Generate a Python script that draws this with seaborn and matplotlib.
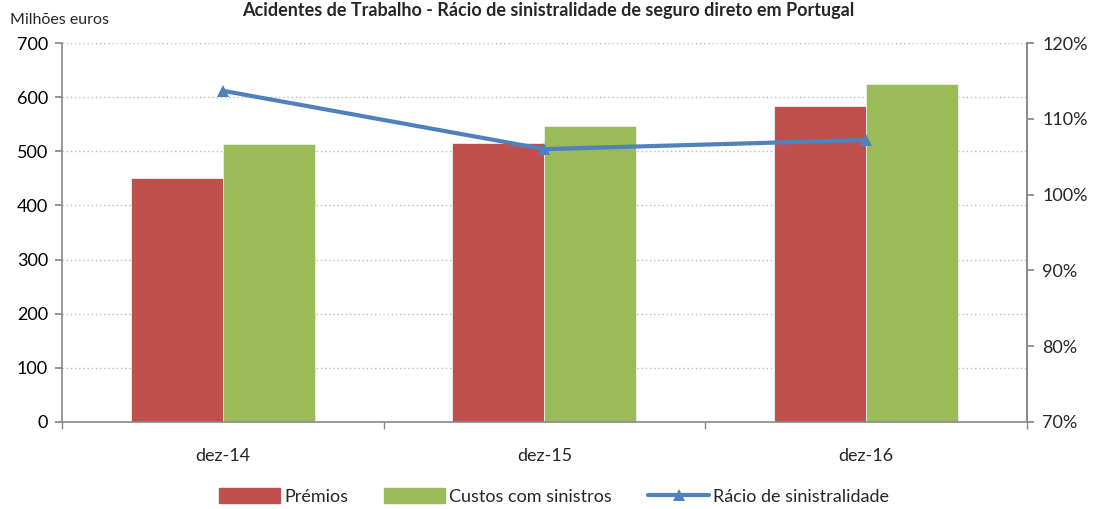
import pandas as pd
import numpy as np
import matplotlib
matplotlib.use("Agg")
import matplotlib.pyplot as plt
import seaborn as sns
from matplotlib.ticker import FuncFormatter, FixedLocator
from matplotlib.patches import Patch
from matplotlib.lines import Line2D

# ---------------------------------------------------
# Daten
# ---------------------------------------------------
periodos = ["dez-14", "dez-15", "dez-16"]
premios = [451, 515, 583]
custos = [513, 546, 625]
racio = [113.7, 106.0, 107.2]

titulo = "Acidentes de Trabalho - Rácio de sinistralidade de seguro direto em Portugal"

df = pd.DataFrame({
    "periodo": periodos * 2,
    "valor": premios + custos,
    "serie": ["Prémios"] * 3 + ["Custos com sinistros"] * 3,
})

sns.set_theme(style="white")
plt.rcParams["font.family"] = ["Lato", "DejaVu Sans"]

fig = plt.figure(figsize=(10.97, 5.09), dpi=100)
ax = fig.add_axes([0.0565, 0.171, 0.8795, 0.7445])

sns.barplot(
    data=df, x="periodo", y="valor", hue="serie",
    palette=["#C0504D", "#9BBB59"], saturation=1, width=0.572,
    edgecolor="#eeeeee", linewidth=0.6, ax=ax, legend=False
)
ax.set_xlim(-0.5, 2.5)
ax.set_ylim(0, 700)
ax.set_yticks(range(0, 701, 100))
ax.yaxis.grid(True, linestyle=(0, (1, 2)), color="#bbbbbb", linewidth=1)
ax.set_axisbelow(True)
ax.set_xlabel("")
ax.set_ylabel("")

# Achsen
for s in ["left", "right", "bottom"]:
    ax.spines[s].set_visible(True)
    ax.spines[s].set_color("#888888")
    ax.spines[s].set_linewidth(1.2)
ax.spines["top"].set_visible(False)

ax.tick_params(axis="y", which="major", left=True, length=5, color="#888888",
               labelsize=13, labelcolor="black", pad=5)
ax.tick_params(axis="x", which="major", length=0, labelsize=13, pad=19)
ax.xaxis.set_minor_locator(FixedLocator([-0.5, 0.5, 1.5, 2.5]))
ax.tick_params(axis="x", which="minor", bottom=True, length=5, color="#888888")

# Zweite Achse: Rácio
ax2 = ax.twinx()
sns.lineplot(x=[0, 1, 2], y=racio, color="#4F81BD", linewidth=3, marker="^",
             markersize=9, markeredgewidth=0, ax=ax2)
ax2.set_ylim(70, 120)
ax2.set_yticks(range(70, 121, 10))
ax2.yaxis.set_major_formatter(FuncFormatter(lambda v, p: f"{v:.0f}%"))
ax2.tick_params(axis="y", right=True, length=5, color="#888888",
                labelsize=13, pad=6)
for s in ["left", "top", "bottom"]:
    ax2.spines[s].set_visible(False)
ax2.spines["right"].set_color("#888888")
ax2.spines["right"].set_linewidth(1.2)
ax2.grid(False)

# Titel und Einheit
fig.text(0.5, 0.997, titulo, ha="center", va="top", fontsize=13,
         fontweight="bold")
fig.text(0.009, 0.961, "Milhões euros", ha="left", va="center", fontsize=11.5)

# Legende
handles = [
    Patch(color="#C0504D", label="Prémios"),
    Patch(color="#9BBB59", label="Custos com sinistros"),
    Line2D([0], [0], color="#4F81BD", linewidth=3, marker="^", markersize=8,
           markeredgewidth=0, label="Rácio de sinistralidade"),
]
fig.legend(handles=handles, loc="center", bbox_to_anchor=(0.505, 0.024), ncol=3,
           frameon=False, fontsize=13, handlelength=3.4, handleheight=0.9,
           columnspacing=2.0, handletextpad=0.2)

fig.savefig("out.png", dpi=100)
plt.close(fig)
